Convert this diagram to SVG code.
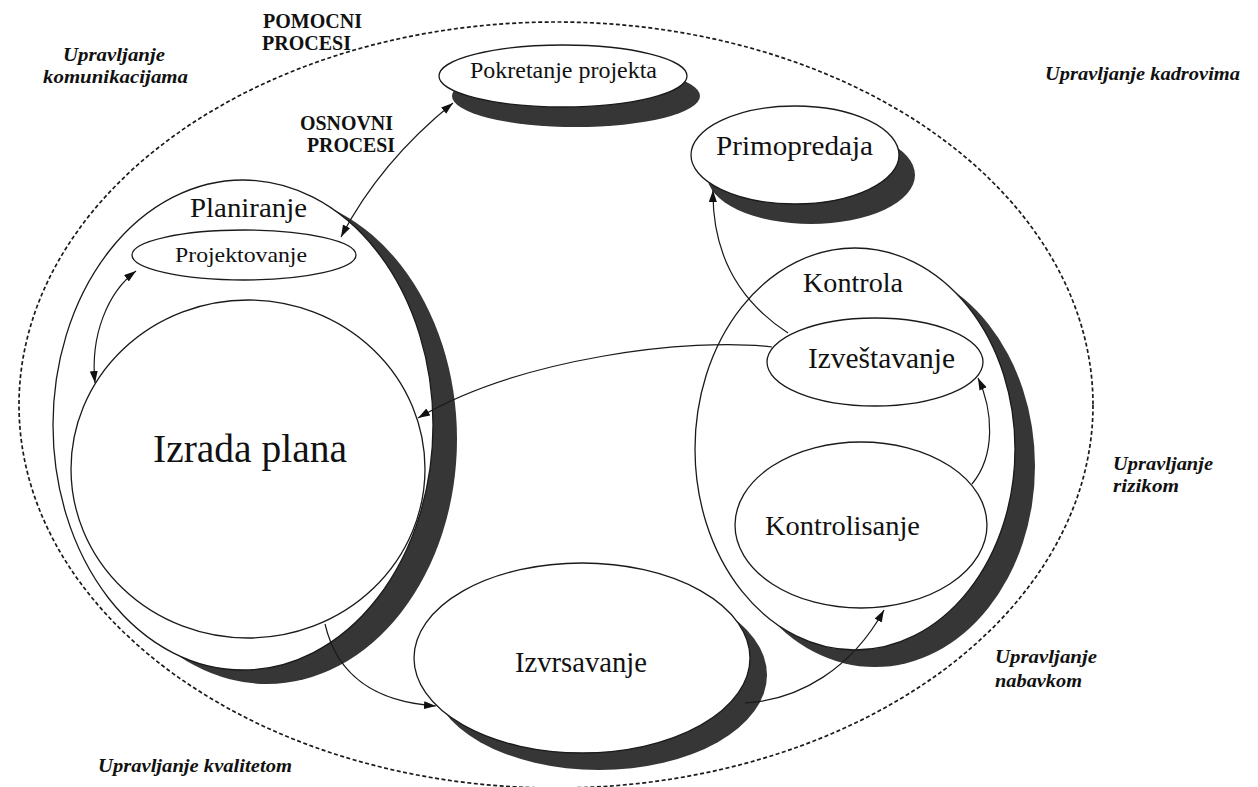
<svg xmlns="http://www.w3.org/2000/svg" width="1258" height="787" viewBox="0 0 1258 787">
<style>
  .bg { fill: #ffffff; }
  .outline { fill: #ffffff; stroke: #1a1a1a; stroke-width: 1.3; }
  .inner { fill: none; stroke: #1a1a1a; stroke-width: 1.3; }
  .shadow { fill: #363636; stroke: none; }
  .dashed { fill: none; stroke: #1a1a1a; stroke-width: 1.7; stroke-dasharray: 4 2.5; }
  .conn { fill: none; stroke: #1a1a1a; stroke-width: 1.2; }
  .lbl { font-family: "Liberation Serif", "Times New Roman", serif; fill: #111111; }
  .proc { font-family: "Liberation Serif", "Times New Roman", serif; font-weight: bold; font-size: 20px; fill: #111111; }
  .mgmt { font-family: "Liberation Serif", "Times New Roman", serif; font-weight: bold; font-style: italic; font-size: 19px; fill: #111111; }
</style>
<defs>
  <marker id="arrow" markerUnits="userSpaceOnUse" markerWidth="13" markerHeight="9" refX="12" refY="4" orient="auto-start-reverse">
    <path d="M0,0 L12,4 L0,8 z" fill="#111111"/>
  </marker>
</defs>
<rect class="bg" x="0" y="0" width="1258" height="787"/>

<g id="outer-boundary">
  <ellipse class="dashed" cx="556" cy="405" rx="537" ry="383"/>
</g>

<g id="node-pokretanje">
  <ellipse class="shadow" cx="576" cy="96" rx="124" ry="31"/>
  <ellipse class="outline" cx="563" cy="76" rx="124" ry="31"/>
  <text class="lbl" x="470" y="78" font-size="23" textLength="187" lengthAdjust="spacingAndGlyphs">Pokretanje projekta</text>
</g>

<g id="node-primopredaja">
  <ellipse class="shadow" cx="811" cy="175" rx="104" ry="49"/>
  <ellipse class="outline" cx="795" cy="155" rx="104" ry="49"/>
  <text class="lbl" x="716" y="155" font-size="27" textLength="157" lengthAdjust="spacingAndGlyphs">Primopredaja</text>
</g>

<g id="node-planiranje">
  <ellipse class="shadow" cx="267" cy="439" rx="190" ry="245"/>
  <ellipse class="outline" cx="243" cy="425" rx="190" ry="245"/>
  <text class="lbl" x="190" y="217" font-size="27" textLength="117" lengthAdjust="spacingAndGlyphs">Planiranje</text>
</g>

<g id="node-projektovanje">
  <ellipse class="inner" cx="244" cy="255" rx="112" ry="25"/>
  <text class="lbl" x="175" y="262" font-size="22" textLength="132" lengthAdjust="spacingAndGlyphs">Projektovanje</text>
</g>

<g id="node-izrada-plana">
  <ellipse class="inner" cx="248" cy="469" rx="177" ry="169"/>
  <text class="lbl" x="153" y="462" font-size="40" textLength="194" lengthAdjust="spacingAndGlyphs">Izrada plana</text>
</g>

<g id="node-kontrola">
  <ellipse class="shadow" cx="875" cy="466" rx="160" ry="201"/>
  <ellipse class="outline" cx="855" cy="449" rx="160" ry="201"/>
  <text class="lbl" x="803" y="292" font-size="28" textLength="100" lengthAdjust="spacingAndGlyphs">Kontrola</text>
</g>

<g id="node-izvestavanje">
  <ellipse class="inner" cx="875" cy="362" rx="108" ry="44"/>
  <text class="lbl" x="808" y="368" font-size="29" textLength="147" lengthAdjust="spacingAndGlyphs">Izveštavanje</text>
</g>

<g id="node-kontrolisanje">
  <ellipse class="inner" cx="861" cy="525" rx="126" ry="83"/>
  <text class="lbl" x="765" y="535" font-size="28" textLength="155" lengthAdjust="spacingAndGlyphs">Kontrolisanje</text>
</g>

<g id="node-izvrsavanje">
  <ellipse class="shadow" cx="599" cy="675" rx="168" ry="95"/>
  <ellipse class="outline" cx="582" cy="658" rx="168" ry="95"/>
  <text class="lbl" x="515" y="672" font-size="29" textLength="132" lengthAdjust="spacingAndGlyphs">Izvrsavanje</text>
</g>

<g id="connectors">
  <path class="conn" d="M453,103 Q380,162 341,237" marker-start="url(#arrow)" marker-end="url(#arrow)"/>
  <path class="conn" d="M136,271 C108,292 90,335 95,383" marker-start="url(#arrow)" marker-end="url(#arrow)"/>
  <path class="conn" d="M788,333 C745,305 712,262 713,190" marker-end="url(#arrow)"/>
  <path class="conn" d="M772,347 C690,337 520,358 418,418" marker-end="url(#arrow)"/>
  <path class="conn" d="M325,624 C338,680 380,702 436,706" marker-end="url(#arrow)"/>
  <path class="conn" d="M745,703 C800,700 852,668 884,610" marker-end="url(#arrow)"/>
  <path class="conn" d="M972,484 C996,455 993,410 978,378" marker-end="url(#arrow)"/>
</g>

<g id="labels">
  <text class="proc" x="263" y="28" textLength="99" lengthAdjust="spacingAndGlyphs">POMOCNI</text>
  <text class="proc" x="262" y="50" textLength="89" lengthAdjust="spacingAndGlyphs">PROCESI</text>
  <text class="proc" x="300" y="130" textLength="93" lengthAdjust="spacingAndGlyphs">OSNOVNI</text>
  <text class="proc" x="307" y="152" textLength="88" lengthAdjust="spacingAndGlyphs">PROCESI</text>
  <text class="mgmt" x="63" y="61" textLength="102" lengthAdjust="spacingAndGlyphs">Upravljanje</text>
  <text class="mgmt" x="43" y="83" textLength="145" lengthAdjust="spacingAndGlyphs">komunikacijama</text>
  <text class="mgmt" x="1045" y="80" textLength="195" lengthAdjust="spacingAndGlyphs">Upravljanje kadrovima</text>
  <text class="mgmt" x="1113" y="470" textLength="100" lengthAdjust="spacingAndGlyphs">Upravljanje</text>
  <text class="mgmt" x="1113" y="492" textLength="66" lengthAdjust="spacingAndGlyphs">rizikom</text>
  <text class="mgmt" x="995" y="663" textLength="102" lengthAdjust="spacingAndGlyphs">Upravljanje</text>
  <text class="mgmt" x="995" y="687" textLength="87" lengthAdjust="spacingAndGlyphs">nabavkom</text>
  <text class="mgmt" x="98" y="772" textLength="194" lengthAdjust="spacingAndGlyphs">Upravljanje kvalitetom</text>
</g>
</svg>
